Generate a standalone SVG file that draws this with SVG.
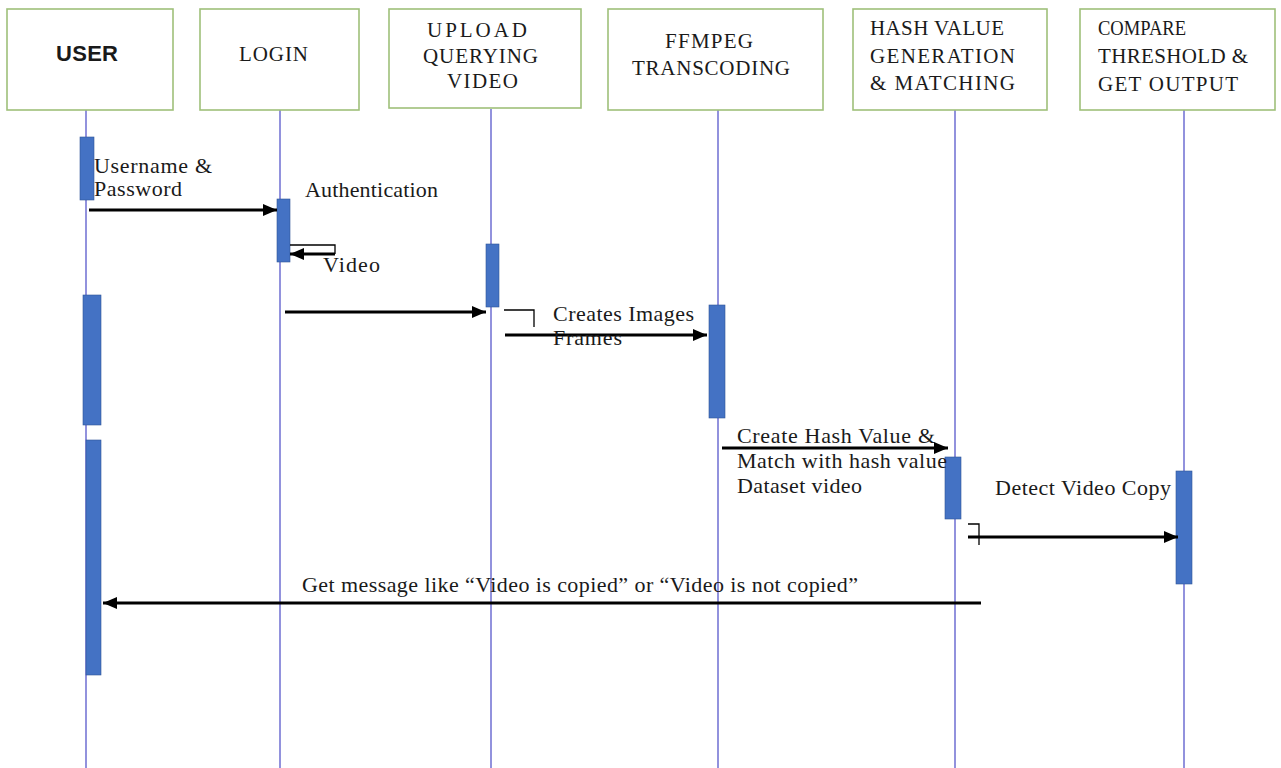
<svg xmlns="http://www.w3.org/2000/svg" width="1281" height="768" viewBox="0 0 1281 768">
<defs>
<style>
.box{fill:#ffffff;stroke:#9fc07a;stroke-width:1.6}
.life{stroke:#6e6ed2;stroke-width:1.5;fill:none}
.act{fill:#4472c4;stroke:#2f5597;stroke-width:0.6}
.t{font-family:"Liberation Serif","Times New Roman",serif;font-size:21px;fill:#1a1a1a}
.ts{font-family:"Liberation Sans",Arial,sans-serif;font-size:22px;font-weight:bold;fill:#1a1a1a}
.lbl{font-family:"Liberation Serif","Times New Roman",serif;font-size:22px;fill:#1a1a1a}
.msg{stroke:#000;stroke-width:2.8;fill:none}
.thin{stroke:#000;stroke-width:1.3;fill:none}
</style>
<marker id="ah" viewBox="0 0 14 12" refX="14" refY="6" markerWidth="14" markerHeight="12" orient="auto" markerUnits="userSpaceOnUse">
<path d="M0,0 L14,6 L0,12 z" fill="#000"/>
</marker>
</defs>
<rect x="0" y="0" width="1281" height="768" fill="#ffffff"/>

<g id="lifelines">
<line class="life" x1="86" y1="110" x2="86" y2="768"/>
<line class="life" x1="280" y1="110" x2="280" y2="768"/>
<line class="life" x1="491" y1="109" x2="491" y2="768"/>
<line class="life" x1="718" y1="110" x2="718" y2="768"/>
<line class="life" x1="955" y1="110" x2="955" y2="768"/>
<line class="life" x1="1184" y1="110" x2="1184" y2="768"/>
</g>

<g id="node-user">
<rect class="box" x="7" y="9" width="166" height="101"/>
<text class="ts" x="56" y="61" textLength="61" letter-spacing="-1">USER</text>
</g>
<g id="node-login">
<rect class="box" x="200" y="9" width="159" height="101"/>
<text class="t" x="239" y="61" textLength="69">LOGIN</text>
</g>
<g id="node-upload">
<rect class="box" x="389" y="9" width="192" height="99"/>
<text class="t" x="427" y="37" textLength="100">UPLOAD</text>
<text class="t" x="423" y="63" textLength="115">QUERYING</text>
<text class="t" x="447" y="88" textLength="71">VIDEO</text>
</g>
<g id="node-ffmpeg">
<rect class="box" x="608" y="9" width="215" height="101"/>
<text class="t" x="665" y="48" textLength="88">FFMPEG</text>
<text class="t" x="632" y="75" textLength="158">TRANSCODING</text>
</g>
<g id="node-hash">
<rect class="box" x="853" y="9" width="194" height="101"/>
<text class="t" x="870" y="35" textLength="134">HASH VALUE</text>
<text class="t" x="870" y="63" textLength="145">GENERATION</text>
<text class="t" x="870" y="90" textLength="145">&amp; MATCHING</text>
</g>
<g id="node-compare">
<rect class="box" x="1080" y="9" width="195" height="101"/>
<text class="t" x="1098" y="35" textLength="88" lengthAdjust="spacingAndGlyphs">COMPARE</text>
<text class="t" x="1098" y="63" textLength="150">THRESHOLD &amp;</text>
<text class="t" x="1098" y="91" textLength="140">GET OUTPUT</text>
</g>

<g id="activations">
<rect class="act" x="80" y="137" width="14" height="63"/>
<rect class="act" x="277" y="199" width="13" height="63"/>
<rect class="act" x="83" y="295" width="18" height="130"/>
<rect class="act" x="86" y="440" width="15" height="235"/>
<rect class="act" x="486" y="244" width="13" height="63"/>
<rect class="act" x="709" y="305" width="16" height="113"/>
<rect class="act" x="945" y="457" width="16" height="62"/>
<rect class="act" x="1176" y="471" width="16" height="113"/>
</g>

<g id="connectors">
<line class="msg" x1="89" y1="210" x2="277" y2="210" marker-end="url(#ah)"/>
<polyline class="thin" points="290,245 335,245 335,254"/>
<line class="msg" x1="335" y1="254" x2="290" y2="254" stroke-width="3" marker-end="url(#ah)"/>
<line class="msg" x1="285" y1="312" x2="486" y2="312" marker-end="url(#ah)"/>
<polyline class="thin" points="504,310 534,310 534,327"/>
<line class="msg" x1="505" y1="335" x2="707" y2="335" marker-end="url(#ah)"/>
<line class="msg" x1="722" y1="448" x2="948" y2="448" marker-end="url(#ah)"/>
<polyline class="thin" points="968,524 979,524 979,545"/>
<line class="msg" x1="968" y1="537" x2="1178" y2="537" marker-end="url(#ah)"/>
<line class="msg" x1="981" y1="603" x2="103" y2="603" marker-end="url(#ah)"/>
</g>

<g id="labels">
<text class="lbl" x="94" y="173" textLength="118">Username &amp;</text>
<text class="lbl" x="94" y="196" textLength="88">Password</text>
<text class="lbl" x="305" y="197" textLength="133">Authentication</text>
<text class="lbl" x="323" y="272" textLength="57">Video</text>
<text class="lbl" x="553" y="321" textLength="141">Creates Images</text>
<text class="lbl" x="553" y="345" textLength="69">Frames</text>
<text class="lbl" x="737" y="443" textLength="198">Create Hash Value &amp;</text>
<text class="lbl" x="737" y="468" textLength="210">Match with hash value</text>
<text class="lbl" x="737" y="493" textLength="125">Dataset video</text>
<text class="lbl" x="995" y="495" textLength="176">Detect Video Copy</text>
<text class="lbl" x="302" y="592" textLength="556">Get message like “Video is copied” or “Video is not copied”</text>
</g>
</svg>
